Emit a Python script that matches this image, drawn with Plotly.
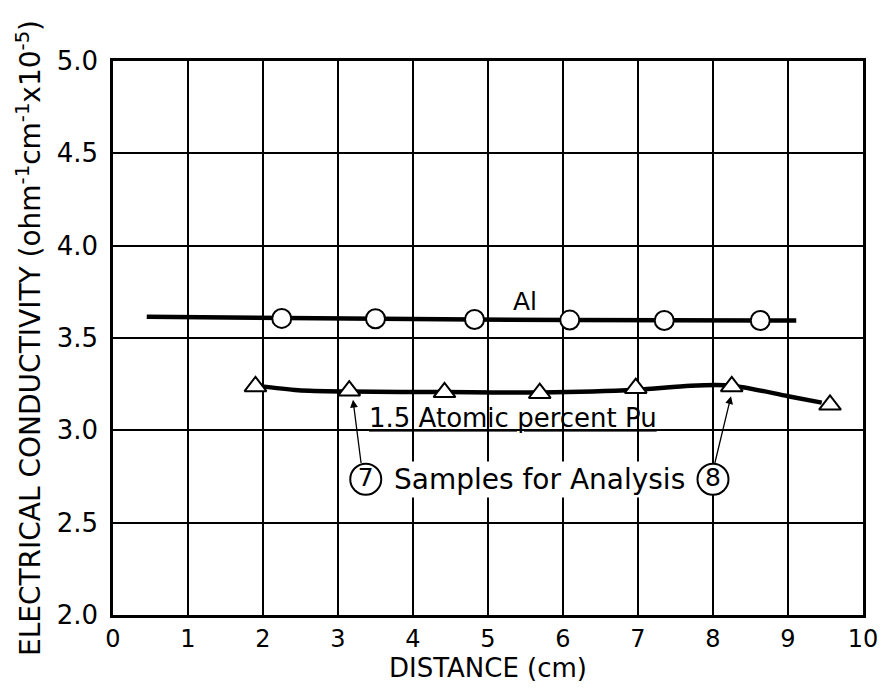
import plotly.graph_objects as go

# Al (pure aluminium) curve and its circle markers
al_line_x = [0.45, 2.25, 3.50, 4.82, 6.09, 7.35, 8.63, 9.11]
al_line_y = [3.615, 3.607, 3.604, 3.600, 3.597, 3.595, 3.595, 3.595]
al_x = [2.25, 3.50, 4.82, 6.09, 7.35, 8.63]
al_y = [3.606, 3.604, 3.600, 3.597, 3.595, 3.595]

# 1.5 atomic percent Pu curve and its triangle markers
pu_x = [1.90, 3.15, 4.42, 5.69, 6.97, 8.25, 9.56]
pu_y = [3.238, 3.215, 3.206, 3.201, 3.228, 3.238, 3.138]
pu_line_x = [1.92, 2.47, 3.16, 4.43, 5.70, 6.98, 7.70, 8.26, 9.00, 9.45]
pu_line_y = [3.242, 3.217, 3.210, 3.207, 3.205, 3.220, 3.242, 3.242, 3.185, 3.150]

# Sample labels (circled numbers)
sample_labels = ["7", "8"]
sample_x = [3.37, 8.00]
sample_y = [2.735, 2.735]

x_ticks = [0, 1, 2, 3, 4, 5, 6, 7, 8, 9, 10]
y_ticks = [2.0, 2.5, 3.0, 3.5, 4.0, 4.5, 5.0]

FONT = "DejaVu Sans"
BLACK = "black"

fig = go.Figure()
fig.add_trace(go.Scatter(x=al_line_x, y=al_line_y, mode="lines",
                         line=dict(color=BLACK, width=4.5), showlegend=False))
fig.add_trace(go.Scatter(x=al_x, y=al_y, mode="markers",
                         marker=dict(symbol="circle", size=19, color="white",
                                     line=dict(color=BLACK, width=2)),
                         showlegend=False))
fig.add_trace(go.Scatter(x=pu_line_x, y=pu_line_y, mode="lines",
                         line=dict(color=BLACK, width=4.5, shape="spline", smoothing=0.8),
                         showlegend=False))
fig.add_trace(go.Scatter(x=pu_x, y=pu_y, mode="markers",
                         marker=dict(symbol="triangle-up", size=19, color="white",
                                     line=dict(color=BLACK, width=2)),
                         showlegend=False))
# circled sample numbers
fig.add_trace(go.Scatter(x=sample_x, y=sample_y, mode="markers+text",
                         text=sample_labels, textposition="middle center",
                         textfont=dict(family=FONT, size=25, color=BLACK),
                         marker=dict(symbol="circle", size=31, color="white",
                                     line=dict(color=BLACK, width=2)),
                         showlegend=False))

fig.add_annotation(x=5.49, y=3.70, text="Al", showarrow=False,
                   font=dict(family=FONT, size=25, color=BLACK))
fig.add_annotation(x=5.33, y=3.069, text="<u>1.5 Atomic percent Pu</u>", showarrow=False,
                   font=dict(family=FONT, size=26, color=BLACK))
fig.add_annotation(x=5.68, y=2.735, text="Samples for Analysis", showarrow=False,
                   bgcolor="white",
                   font=dict(family=FONT, size=28, color=BLACK))
# arrows from sample labels to triangles
fig.add_annotation(x=3.20, y=3.165, ax=3.31, ay=2.815, xref="x", yref="y", axref="x", ayref="y",
                   text="", showarrow=True, arrowhead=2, arrowsize=1.2, arrowwidth=1.3,
                   arrowcolor=BLACK)
fig.add_annotation(x=8.24, y=3.185, ax=8.02, ay=2.815, xref="x", yref="y", axref="x", ayref="y",
                   text="", showarrow=True, arrowhead=2, arrowsize=1.2, arrowwidth=1.3,
                   arrowcolor=BLACK)

fig.update_xaxes(range=[0, 10], tickvals=x_ticks, ticktext=[str(v) for v in x_ticks],
                 showgrid=True, gridcolor=BLACK, gridwidth=2,
                 showline=True, linecolor=BLACK, linewidth=2.5, mirror=True,
                 zeroline=False, ticks="", automargin=False, ticklabelstandoff=0,
                 ticklabeloverflow="allow",
                 tickfont=dict(family=FONT, size=24, color=BLACK),
                 title=dict(text="DISTANCE (cm)", font=dict(family=FONT, size=26, color=BLACK),
                            standoff=8))
fig.update_yaxes(range=[2.0, 5.0], tickvals=y_ticks, ticktext=[f"{v:.1f}" for v in y_ticks],
                 showgrid=True, gridcolor=BLACK, gridwidth=2,
                 showline=True, linecolor=BLACK, linewidth=2.5, mirror=True,
                 zeroline=False, ticks="", automargin=False, ticklabelstandoff=7,
                 tickfont=dict(family=FONT, size=26, color=BLACK),
                 title=dict(text="ELECTRICAL CONDUCTIVITY (ohm<sup>-1</sup>cm<sup>-1</sup>x10<sup>-5</sup>)",
                            font=dict(family=FONT, size=28, color=BLACK), standoff=8))

fig.update_layout(width=870, height=682, plot_bgcolor="white", paper_bgcolor="white",
                  margin=dict(l=105, r=15, t=53, b=75))

fig.write_html("out.html")
